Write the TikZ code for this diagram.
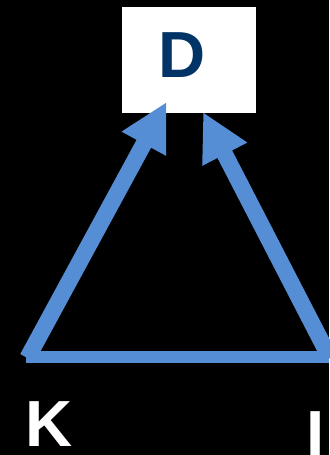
\documentclass[tikz,border=0pt]{standalone}
\usepackage{fontspec}
\setmainfont{Liberation Sans}
\usetikzlibrary{arrows.meta}
\definecolor{lineblue}{RGB}{85,142,213}
\definecolor{navy}{RGB}{0,51,102}
\begin{document}
\begin{tikzpicture}[x=1bp,y=-1bp,
  boxstyle/.style={draw=none,fill=white,inner sep=0,minimum width=134bp,minimum height=106.6bp},
  letter/.style={inner sep=0,anchor=base,font=\fontsize{65.2bp}{70bp}\selectfont\bfseries},
  slant/.style={lineblue,line width=16.5bp,line cap=butt,-{Triangle[length=47.5bp,width=47bp]}},
  base/.style={lineblue,line width=11.7bp,line cap=butt}]
\fill[black] (0,0) rectangle (329,455);
\useasboundingbox (0,0) rectangle (329,455);
\node[boxstyle] (D) at (189,60) {};
\node[letter,text=navy] (Dl) at (181.9,77.3) {D};
\node[letter,text=white] (K) at (49.4,446.7) {K};
\node[letter,text=white] (I) at (315.9,456.7) {I};
\coordinate (kc) at (27.5,358);
\coordinate (ic) at (330,358);
\coordinate (kh) at (26,357);
\coordinate (ih) at (329,357);
\coordinate (dl) at (166.5,102);
\coordinate (dr) at (203,112);
\draw[base] (kh) -- (ih);
\draw[slant] (kc) -- (dl);
\draw[slant] (ic) -- (dr);
\end{tikzpicture}
\end{document}
